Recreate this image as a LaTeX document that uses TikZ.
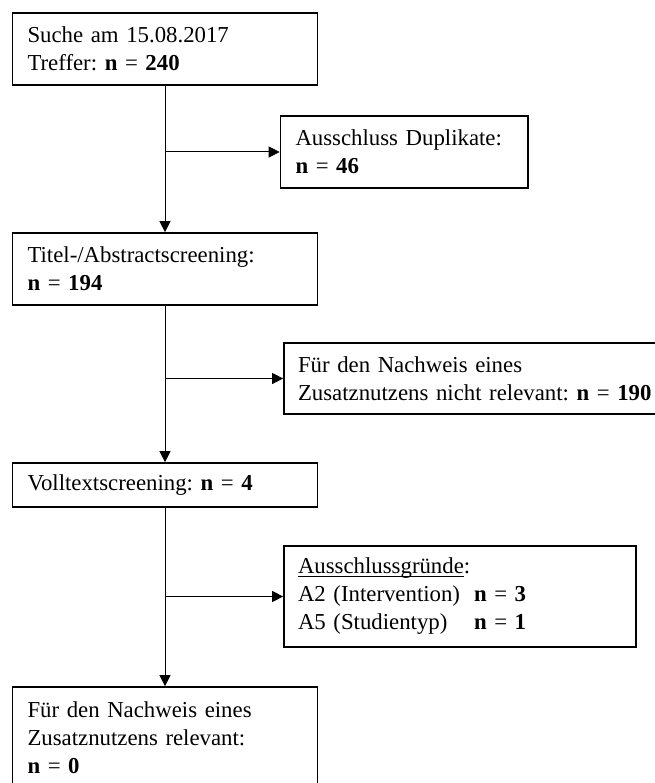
\documentclass[tikz,border=0pt]{standalone}
\usepackage{fontspec}
\setmainfont{Liberation Serif}
\newcommand\myul[1]{\setbox0\hbox{#1}\rlap{\rule[-2.5pt]{\wd0}{0.9pt}}\box0}
\usetikzlibrary{arrows.meta}
\begin{document}
\frenchspacing
\begin{tikzpicture}[x=1pt,y=-1pt,
  box/.style={draw, line width=1.7pt, inner xsep=15pt, inner ysep=0pt, align=left,
    font=\fontsize{22.8}{28}\selectfont},
  conn/.style={line width=1pt, -{Triangle[length=11pt,width=11pt]}}]
\useasboundingbox (0,0) rectangle (654,783);
\fill[white] (0,0) rectangle (654,783);
\node[box, text width=275pt, minimum height=72pt] (b1) at (165,49)
  {Suche am 15.08.2017\\Treffer: \textbf{n} = \textbf{240}};
\node[box, text width=217.5pt, minimum height=72pt] (b2) at (404.25,152)
  {Ausschluss Duplikate:\\\textbf{n} = \textbf{46}};
\node[box, text width=275pt, minimum height=72pt] (b3) at (165,269)
  {Titel-/Abstractscreening:\\\textbf{n} = \textbf{194}};
\node[box, inner xsep=14pt, text width=360pt, minimum height=71pt] (b4) at (478,378.5)
  {Für den Nachweis eines\\Zusatznutzens nicht relevant: \textbf{n} = \textbf{190}};
\node[box, text width=275pt, minimum height=44pt] (b5) at (165,485)
  {Volltextscreening: \textbf{n} = \textbf{4}};
\node[box, inner xsep=14pt, text width=324pt, minimum height=101pt] (b6) at (460,596.5)
  {\myul{Ausschlussgründe}:\\\makebox[176pt][l]{A2 (Intervention)}\textbf{n} = \textbf{3}\\\makebox[176pt][l]{A5 (Studientyp)}\textbf{n} = \textbf{1}};
\node[box, text width=275pt, minimum height=102pt] (b7) at (165,738)
  {Für den Nachweis eines\\Zusatznutzens relevant:\\\textbf{n} = \textbf{0}};
\draw[conn] (b1.south) -- (b3.north);
\draw[conn] (b3.south) -- (b5.north);
\draw[conn] (b5.south) -- (b7.north);
\coordinate (j1) at (b1.south |- b2.west);
\coordinate (j2) at (b3.south |- b4.west);
\coordinate (j3) at (b5.south |- b6.west);
\draw[conn] (j1) -- (b2.west);
\draw[conn] (j2) -- (b4.west);
\draw[conn] (j3) -- (b6.west);
\end{tikzpicture}
\end{document}
